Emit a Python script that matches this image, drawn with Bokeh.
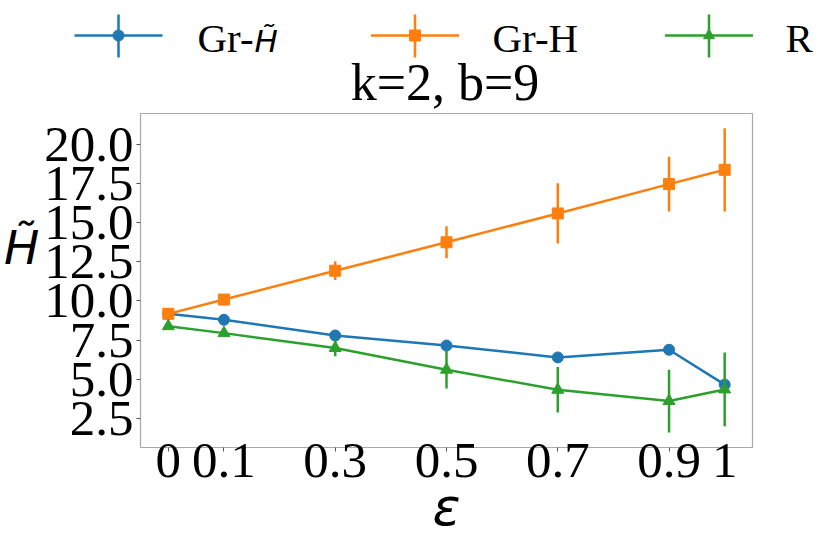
from bokeh.plotting import figure
from bokeh.models import Range1d, FixedTicker, NumeralTickFormatter
from bokeh.embed import file_html
from bokeh.resources import INLINE
from bokeh.core.properties import value

# ---- data ----
eps = [0, 0.1, 0.3, 0.5, 0.7, 0.9, 1.0]
x_tick_labels = ["0", "0.1", "0.3", "0.5", "0.7", "0.9", "1"]
y_ticks = [2.5, 5.0, 7.5, 10.0, 12.5, 15.0, 17.5, 20.0]

gr_htilde = [9.18, 8.80, 7.80, 7.16, 6.40, 6.89, 4.67]
gr_htilde_err = [0.0, 0.0, 0.0, 0.0, 0.0, 0.0, 0.0]
gr_h = [9.18, 10.09, 11.93, 13.74, 15.58, 17.45, 18.36]
gr_h_err = [0.0, 0.1, 0.6, 1.02, 1.92, 1.75, 2.65]
r_vals = [8.39, 7.95, 7.00, 5.62, 4.34, 3.62, 4.36]
r_err = [0.0, 0.0, 0.53, 1.2, 1.45, 2.0, 2.35]

series_labels = ["Gr-", "Gr-H", "R"]
title_text = "k=2, b=9"
xlabel = "\u03b5"
ylabel = "H\u0303\n "

BLUE, ORANGE, GREEN = "#1f77b4", "#ff7f0e", "#2ca02c"
SERIF = value("Liberation Serif")

W = 831
TOP_H = 112
MAIN_H = 436

# ---- top strip: legend + title ----
top = figure(width=W, height=TOP_H, x_range=Range1d(0, W), y_range=Range1d(TOP_H, 0),
             output_backend="svg", toolbar_location=None,
             x_axis_location=None, y_axis_location=None,
             min_border_left=0, min_border_right=0, min_border_top=0, min_border_bottom=0)
top.grid.visible = False
top.outline_line_color = None

leg_x = [118, 414.5, 708.5]
leg_colors = [BLUE, ORANGE, GREEN]
leg_markers = ["circle", "square", "triangle"]
ly = 35
for cx, col, mk in zip(leg_x, leg_colors, leg_markers):
    top.segment(x0=[cx - 44], y0=[ly], x1=[cx + 44], y1=[ly], line_color=col, line_width=2.5)
    top.segment(x0=[cx], y0=[ly - 21], x1=[cx], y1=[ly + 22], line_color=col, line_width=2.5)
    top.scatter(x=[cx], y=[ly], marker=mk, size=11, fill_color=col, line_color=col)

top.text(x=[197, 492, 785], y=[37, 37, 37], text=series_labels, text_font=SERIF,
         text_font_size="41px", text_baseline="alphabetic", text_align="left", text_color="black")
top.text(x=[254], y=[40], text=["H\u0303"], text_font=value("DejaVu Sans"),
         text_font_style="italic", text_font_size="31px", text_baseline="alphabetic",
         text_align="left", text_color="black")
top.text(x=[444.5], y=[82], text=[title_text], text_font=SERIF, text_font_size="52px",
         text_baseline="alphabetic", text_align="center", text_color="black")

# ---- main plot ----
p = figure(width=W, height=MAIN_H, x_range=Range1d(-0.05, 1.05), y_range=Range1d(0.66, 21.95),
           output_backend="svg", toolbar_location=None,
           min_border_left=137, min_border_right=79, min_border_top=1, min_border_bottom=101)
p.grid.visible = False
p.outline_line_color = "#a8a8a8"
p.outline_line_width = 1.2
p.background_fill_color = "white"
p.border_fill_color = "white"

series = [(gr_htilde, gr_htilde_err, BLUE, "circle", 11),
          (gr_h, gr_h_err, ORANGE, "square", 11),
          (r_vals, r_err, GREEN, "triangle", 12)]
for ys, errs, col, mk, sz in series:
    lo = [y - e for y, e in zip(ys, errs)]
    hi = [y + e for y, e in zip(ys, errs)]
    p.segment(x0=eps, y0=lo, x1=eps, y1=hi, line_color=col, line_width=2.5)
    p.line(eps, ys, line_color=col, line_width=2.5)
    p.scatter(eps, ys, marker=mk, size=sz, fill_color=col, line_color=col)

p.xaxis.ticker = FixedTicker(ticks=eps)
p.xaxis.major_label_overrides = {t: s for t, s in zip(eps, x_tick_labels)}
p.yaxis.ticker = FixedTicker(ticks=y_ticks)
p.yaxis.formatter = NumeralTickFormatter(format="0.0")
for ax in (p.xaxis[0], p.yaxis[0]):
    ax.axis_line_color = None
    ax.major_tick_line_color = "#555555"
    ax.major_tick_out = 4
    ax.major_tick_in = 0
    ax.minor_tick_line_color = None
    ax.major_label_text_font = "Liberation Serif"
    ax.major_label_text_font_size = "51px"
    ax.major_label_text_color = "black"
    ax.axis_label_text_font = "DejaVu Sans"
    ax.axis_label_text_font_style = "italic"
    ax.axis_label_text_color = "black"
p.xaxis.major_label_standoff = -8
p.yaxis.major_label_standoff = 3

p.xaxis.axis_label = xlabel
p.xaxis.axis_label_text_font_size = "52px"
p.xaxis.axis_label_standoff = -3

p.yaxis.axis_label = ylabel
p.yaxis.axis_label_text_font_size = "47px"
p.yaxis.axis_label_orientation = "horizontal"
p.yaxis.axis_label_standoff = 2

open("out.html", "w").write(file_html([top, p], INLINE))
